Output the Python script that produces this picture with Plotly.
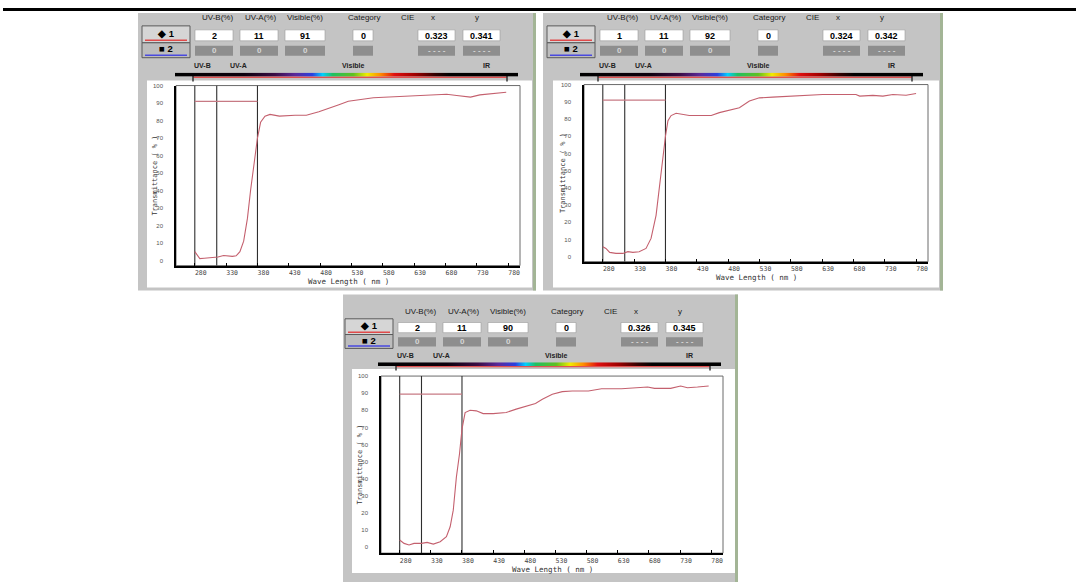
import plotly.graph_objects as go

W, H = 1076, 582

# ---------------- data ----------------
wavelength_1 = [280, 283, 288, 295, 305, 317, 326, 332, 340, 346, 352, 358, 364, 369, 374, 380, 385, 392,
                400, 415, 440, 458, 478, 495, 510, 525, 545, 565, 590, 618, 645, 670, 682, 698, 712, 720,
                735, 756, 777]
transmittance_1 = [5.0, 3.5, 1.0, 1.2, 1.6, 1.9, 2.8, 2.4, 2.3, 2.6, 5.0, 11, 24, 40, 55, 70, 79, 82.5,
                   83.5, 82.5, 83, 83, 85, 87, 89, 91, 92, 93, 93.5, 94, 94.3, 94.7, 95, 94.3, 94, 93.4,
                   94.7, 95.6, 96.2]

wavelength_2 = [280, 285, 291, 301, 312, 320, 328, 338, 349, 357, 365, 371, 376, 380, 384, 389, 397, 408,
                418, 434, 453, 466, 482, 498, 514, 530, 551, 578, 604, 631, 658, 684, 690, 711, 727, 743,
                764, 780]
transmittance_2 = [5.8, 4.8, 2.5, 1.9, 1.9, 2.9, 2.5, 2.9, 4.8, 10.6, 24, 43, 58.7, 70, 79, 82, 83.3, 82.7,
                   82, 82, 82, 83.7, 85.2, 86.5, 90.4, 92.3, 92.7, 93.3, 93.7, 94.2, 94.2, 94.2, 93.3, 93.7,
                   93.3, 94.2, 93.8, 94.8]

wavelength_3 = [280, 287, 295, 303, 315, 324, 334, 345, 355, 361, 366, 371, 376, 380, 385, 393, 403, 414,
                430, 451, 467, 483, 498, 509, 525, 541, 557, 583, 604, 636, 662, 678, 689, 715, 731, 742,
                758, 776]
transmittance_3 = [4.3, 2.3, 1.4, 2.3, 2.3, 2.9, 1.9, 3.3, 6.2, 12, 21.7, 41, 54.5, 69, 78.7, 80, 79.7, 78.1,
                   78.1, 78.7, 80.7, 82.6, 84, 86.5, 89.4, 90.9, 91.3, 91.3, 92.6, 92.6, 93.2, 93.6, 92.8,
                   92.8, 94.2, 93.2, 93.6, 94.2]

uvb_pct = [2, 1, 2]
uva_pct = [11, 11, 11]
visible_pct = [91, 92, 90]
category = [0, 0, 0]
cie_x = ["0.323", "0.324", "0.326"]
cie_y = ["0.341", "0.342", "0.345"]
avg_level = [91, 91, 89.5]
band_edges = [280, 315, 380]
avg_span = [280, 380]

x_tick_vals = [280, 330, 380, 430, 480, 530, 580, 630, 680, 730, 780]
y_tick_vals = [0, 10, 20, 30, 40, 50, 60, 70, 80, 90, 100]
header_labels = ["UV-B(%)", "UV-A(%)", "Visible(%)", "Category", "CIE", "x", "y"]
band_labels = ["UV-B", "UV-A", "Visible", "IR"]
x_title = "Wave Length ( nm )"
y_title = "Transmittance ( % )"

series = [(wavelength_1, transmittance_1), (wavelength_2, transmittance_2), (wavelength_3, transmittance_3)]

# ---------------- layout geometry (pixels) ----------------
panels = [
    dict(bx=142, ly=15, s=1.0, box=(138, 10, 536, 289), white=(147, 78, 532, 286),
         plot=(176, 83, 520, 264), ylo=-3.0, title_dy=16),
    dict(bx=547, ly=15, s=1.0, box=(543, 10, 943, 289), white=(553, 78, 939, 286),
         plot=(584, 82, 928, 260), ylo=-2.9, title_dy=16),
    dict(bx=345, ly=310, s=0.93, box=(343, 293, 738, 582), white=(352, 368, 735, 573),
         plot=(381, 375, 723, 553), ylo=-3.4, title_dy=16.5),
]
label_dx = [75, 118, 163, 222, 265, 291, 335]
box_cols = [(53, 91), (98, 136), (143, 183), (211, 231), (276, 313), (321, 358)]
band_dx = [60, 96, 211, 344]
spectrum_scale = [
    [0.00, "#000000"], [0.20, "#0c000c"], [0.29, "#3a0c44"], [0.35, "#5a2a9a"],
    [0.40, "#2a40e0"], [0.43, "#00d0ff"], [0.46, "#20c060"], [0.52, "#60c020"],
    [0.56, "#f0ec00"], [0.60, "#ff8a00"], [0.64, "#e01010"], [0.70, "#a00000"],
    [0.76, "#300000"], [0.80, "#000000"], [1.00, "#000000"],
]

SANS = "Liberation Sans, Arial, sans-serif"
MONO = "DejaVu Sans Mono, monospace"

shapes, annos = [], []


def px(x):
    return x / W


def py(y):
    return 1 - y / H


def rect(x0, y0, x1, y1, fill, line=None, lw=1, layer="below"):
    shapes.append(dict(type="rect", xref="paper", yref="paper",
                       x0=px(x0), x1=px(x1), y0=py(y1), y1=py(y0),
                       fillcolor=fill, layer=layer,
                       line=dict(color=line if line else fill, width=lw if line else 0)))


def seg(x0, y0, x1, y1, color, lw=1, layer="below"):
    shapes.append(dict(type="line", xref="paper", yref="paper",
                       x0=px(x0), x1=px(x1), y0=py(y0), y1=py(y1),
                       line=dict(color=color, width=lw), layer=layer))


def text(x, y, s, size, color="#111", bold=False, family=SANS, angle=0):
    annos.append(dict(xref="paper", yref="paper", x=px(x), y=py(y),
                      text=f"<b>{s}</b>" if bold else s, showarrow=False,
                      font=dict(size=size, color=color, family=family),
                      xanchor="center", yanchor="middle", textangle=angle))


# top rule
rect(3, 5, 1076, 8, "#000000", layer="above")

fig = go.Figure()
layout_axes = {}

for i, p in enumerate(panels):
    k = i + 1
    bx, ly, s = p["bx"], p["ly"], p["s"]
    bl, bt, br, bb = p["box"]
    rect(bl, bt, br, bb, "#c4c4c4")
    rect(br - 3, bt, br, bb, "#a3b596")
    wl, wt, wr, wb = p["white"]
    rect(wl, wt, wr, wb, "#ffffff")

    # buttons
    rect(bx, ly + 8 * s, bx + 48, ly + 25 * s, "#d6d6d6", "#5a5a5a", 1)
    seg(bx + 3, ly + 22.5 * s, bx + 45, ly + 22.5 * s, "#e04a4a", 1.5)
    text(bx + 24, ly + 15.5 * s, "◆ 1", 9.5, "#000", bold=True)
    rect(bx, ly + 25 * s, bx + 48, ly + 40 * s, "#bdbdbd", "#5a5a5a", 1)
    seg(bx + 3, ly + 37.5 * s, bx + 45, ly + 37.5 * s, "#4a4ae0", 1.5)
    text(bx + 24, ly + 31 * s, "■ 2", 9.5, "#000", bold=True)

    # header labels
    for lab, dx in zip(header_labels, label_dx):
        text(bx + dx, ly, lab, 8, "#1a1a1a")

    # value row 1 (white)
    vals1 = [uvb_pct[i], uva_pct[i], visible_pct[i], category[i], cie_x[i], cie_y[i]]
    for (c0, c1), v in zip(box_cols, vals1):
        rect(bx + c0, ly + 12 * s, bx + c1, ly + 23 * s, "#ffffff", "#9a9a9a", 0.6)
        text(bx + (c0 + c1) / 2, ly + 17.8 * s, str(v), 9, "#000", bold=True)
    # value row 2 (gray)
    vals2 = ["0", "0", "0", "", "- - - -", "- - - -"]
    for (c0, c1), v in zip(box_cols, vals2):
        rect(bx + c0, ly + 28 * s, bx + c1, ly + 38 * s, "#8e8e8e")
        if v:
            text(bx + (c0 + c1) / 2, ly + 33 * s, v, 8, "#d8d8d8", bold=True)

    # spectrum labels & bar
    for lab, dx in zip(band_labels, band_dx):
        text(bx + dx, ly + 48 * s, lab, 7, "#222", bold=True)
    seg(bx + 51, ly + 59.6 * s, bx + 365, ly + 59.6 * s, "#e05050", 1.5)
    seg(bx + 51, ly + 58 * s, bx + 51, ly + 64 * s, "#333", 1.5)
    seg(bx + 365, ly + 58 * s, bx + 365, ly + 64 * s, "#333", 1.5)

    hk = k + 3
    fig.add_trace(go.Heatmap(z=[list(range(343))], colorscale=spectrum_scale, showscale=False,
                             xaxis=f"x{hk}", yaxis=f"y{hk}", hoverinfo="skip"))
    layout_axes[f"xaxis{hk}"] = dict(domain=[px(bx + 33), px(bx + 376)], range=[-0.5, 342.5],
                                     visible=False, fixedrange=True, anchor=f"y{hk}")
    layout_axes[f"yaxis{hk}"] = dict(domain=[py(ly + 59 * s), py(ly + 55 * s)], range=[-0.5, 0.5],
                                     visible=False, fixedrange=True, anchor=f"x{hk}")

    # plot area
    x0, y0, x1, y1 = p["plot"]
    xa = "x" if k == 1 else f"x{k}"
    ya = "y" if k == 1 else f"y{k}"
    shapes.append(dict(type="rect", xref=f"{xa} domain", yref=f"{ya} domain",
                       x0=0, x1=1, y0=0, y1=1, line=dict(color="#6a6a6a", width=1),
                       fillcolor="rgba(0,0,0,0)", layer="below"))

    vx, vy = [], []
    for e in band_edges:
        vx += [e, e, None]
        vy += [p["ylo"], 100, None]
    fig.add_trace(go.Scatter(x=vx, y=vy, mode="lines", line=dict(color="#2e2e2e", width=1.1),
                             xaxis=xa, yaxis=ya, hoverinfo="skip", showlegend=False))
    fig.add_trace(go.Scatter(x=avg_span, y=[avg_level[i]] * 2, mode="lines",
                             line=dict(color="#c77a84", width=1.2),
                             xaxis=xa, yaxis=ya, showlegend=False))
    wx, ty = series[i]
    fig.add_trace(go.Scatter(x=wx, y=ty, mode="lines", line=dict(color="#c4606e", width=1.1),
                             xaxis=xa, yaxis=ya, showlegend=False))

    key_x = "xaxis" if k == 1 else f"xaxis{k}"
    key_y = "yaxis" if k == 1 else f"yaxis{k}"
    layout_axes[key_x] = dict(domain=[px(x0), px(x1)], range=[250, 799], anchor=ya,
                              tickvals=x_tick_vals, ticktext=[str(v) for v in x_tick_vals],
                              ticks="inside", ticklen=3, tickcolor="#000", tickwidth=1.2,
                              showline=True, linecolor="#000", linewidth=1.6,
                              showgrid=False, zeroline=False, fixedrange=True,
                              ticklabelshift=6, ticklabelstandoff=0,
                              tickfont=dict(size=6.5, family=MONO, color="#444"))
    layout_axes[key_y] = dict(domain=[py(y1), py(y0)], range=[p["ylo"], 100], anchor=xa,
                              tickvals=y_tick_vals, ticks="", showline=True, linecolor="#000",
                              linewidth=1.6, showgrid=False, zeroline=False, fixedrange=True,
                              ticklabelstandoff=10,
                              tickfont=dict(size=6, family=SANS, color="#555"))

    text(x0 - 21, (y0 + y1) / 2, y_title, 7, "#333", family=MONO, angle=-90)
    text((x0 + x1) / 2, y1 + p["title_dy"], x_title, 7.5, "#333", family=MONO)

fig.update_layout(width=W, height=H, margin=dict(l=0, r=0, t=0, b=0),
                  paper_bgcolor="#ffffff", plot_bgcolor="rgba(0,0,0,0)",
                  showlegend=False, shapes=shapes, annotations=annos, **layout_axes)

fig.write_html("out.html")
